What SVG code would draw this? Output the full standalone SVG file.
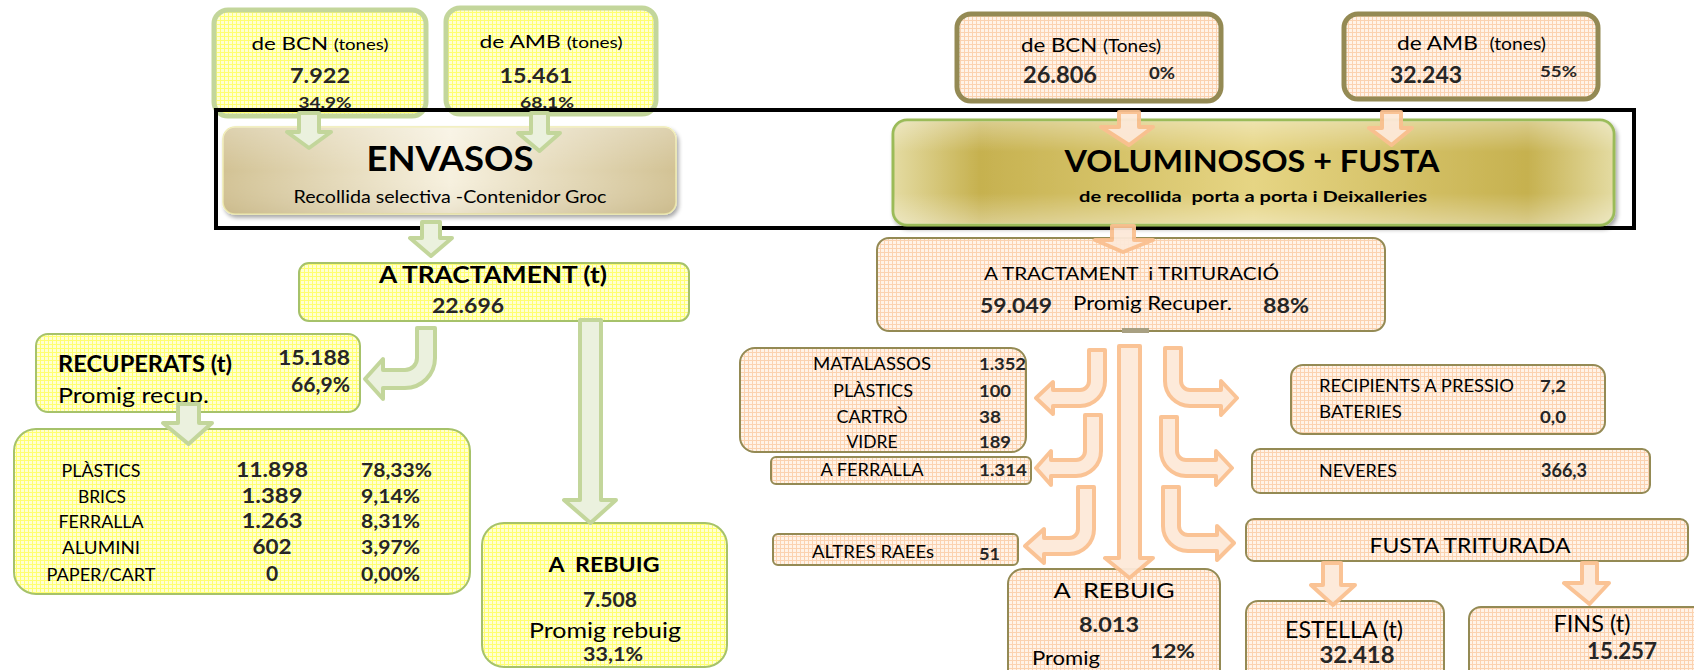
<svg xmlns="http://www.w3.org/2000/svg" width="1694" height="670" viewBox="0 0 1694 670">
<defs>
  <pattern id="pY" width="4" height="4" patternUnits="userSpaceOnUse">
    <rect width="4" height="4" fill="#ffffd2"/>
    <path d="M0 0.5H4M0.5 0V4" stroke="#ffff70" stroke-width="1"/>
  </pattern>
  <pattern id="pP" width="4" height="4" patternUnits="userSpaceOnUse">
    <rect width="4" height="4" fill="#fff3e8"/>
    <path d="M0 0.5H4M0.5 0V4" stroke="#fbd2b0" stroke-width="1"/>
  </pattern>
  <linearGradient id="gEnv" x1="0" y1="0" x2="1" y2="0">
    <stop offset="0" stop-color="#d2c294"/>
    <stop offset="0.5" stop-color="#f7f1df"/>
    <stop offset="1" stop-color="#d2c294"/>
  </linearGradient>
  <linearGradient id="gEnvV" x1="0" y1="0" x2="0" y2="1">
    <stop offset="0" stop-color="#ffffff" stop-opacity="0.25"/>
    <stop offset="0.5" stop-color="#ffffff" stop-opacity="0"/>
    <stop offset="1" stop-color="#a08c5a" stop-opacity="0.15"/>
  </linearGradient>
  <linearGradient id="gVol" x1="0" y1="0" x2="1" y2="0">
    <stop offset="0" stop-color="#e4dba2"/>
    <stop offset="0.12" stop-color="#c6b14f"/>
    <stop offset="0.5" stop-color="#e6d584"/>
    <stop offset="0.88" stop-color="#c6b14f"/>
    <stop offset="1" stop-color="#e4dba2"/>
  </linearGradient>
  <linearGradient id="gVolV" x1="0" y1="0" x2="0" y2="1">
    <stop offset="0" stop-color="#ffffff" stop-opacity="0.35"/>
    <stop offset="0.3" stop-color="#ffffff" stop-opacity="0"/>
    <stop offset="0.7" stop-color="#ffffff" stop-opacity="0"/>
    <stop offset="1" stop-color="#ffffff" stop-opacity="0.35"/>
  </linearGradient>
  <filter id="sh" x="-5%" y="-10%" width="110%" height="130%">
    <feGaussianBlur in="SourceAlpha" stdDeviation="2"/>
    <feOffset dx="2" dy="3" result="b"/>
    <feComponentTransfer><feFuncA type="linear" slope="0.35"/></feComponentTransfer>
    <feMerge><feMergeNode/><feMergeNode in="SourceGraphic"/></feMerge>
  </filter>
</defs>
<style>
  text { font-family: Lato, "Open Sans", "Liberation Sans", sans-serif; fill: #000; white-space: pre; }
  .b { font-weight: bold; }
  .n { font-weight: bold; fill: #262626; }
  .m { text-anchor: middle; }
  .e { text-anchor: end; }
  .gTop { fill: url(#pY); stroke: #c3d69b; stroke-width: 5; }
  .gBox { fill: url(#pY); stroke: #a6c26a; stroke-width: 2; }
  .pTop { fill: url(#pP); stroke: #948a54; stroke-width: 5; }
  .pBox { fill: url(#pP); stroke: #948a54; stroke-width: 2; }
  .ga { fill: #ebf1de; stroke: #c3d69b; stroke-width: 4; stroke-linejoin: round; }
  .pa { fill: #fde9d9; stroke: #fac090; stroke-width: 4; stroke-linejoin: round; opacity: 0.95; }
</style>

<!-- LEFT: ENVASOS -->
<g id="env-bcn">
  <rect class="gTop" x="214" y="10" width="212" height="106" rx="14"/>
  <text class="m" x="320" y="50" textLength="137" lengthAdjust="spacingAndGlyphs"><tspan font-size="18">de BCN </tspan><tspan font-size="15">(tones)</tspan></text>
  <text class="n m" x="320" y="83" font-size="20" textLength="60" lengthAdjust="spacingAndGlyphs">7.922</text>
  <text class="n m" x="325" y="108" font-size="16" textLength="53" lengthAdjust="spacingAndGlyphs">34,9%</text>
</g>
<g id="env-amb">
  <rect class="gTop" x="446" y="8" width="210" height="106" rx="14"/>
  <text class="m" x="551" y="48" textLength="143" lengthAdjust="spacingAndGlyphs"><tspan font-size="18">de AMB </tspan><tspan font-size="15">(tones)</tspan></text>
  <text class="n m" x="536" y="83" font-size="20" textLength="73" lengthAdjust="spacingAndGlyphs">15.461</text>
  <text class="n m" x="547" y="108" font-size="16" textLength="54" lengthAdjust="spacingAndGlyphs">68,1%</text>
</g>

<!-- RIGHT top boxes -->
<g id="vol-bcn">
  <rect class="pTop" x="957" y="14" width="264" height="87" rx="14"/>
  <text class="m" x="1091" y="52" textLength="140" lengthAdjust="spacingAndGlyphs"><tspan font-size="20">de BCN </tspan><tspan font-size="17">(Tones)</tspan></text>
  <text class="n" x="1023" y="83" font-size="22" textLength="74" lengthAdjust="spacingAndGlyphs">26.806</text>
  <text class="n" x="1149" y="79" font-size="17" textLength="26" lengthAdjust="spacingAndGlyphs">0%</text>
</g>
<g id="vol-amb">
  <rect class="pTop" x="1344" y="14" width="254" height="85" rx="14"/>
  <text x="1397" y="50" textLength="149" lengthAdjust="spacingAndGlyphs"><tspan font-size="20">de AMB  </tspan><tspan font-size="17">(tones)</tspan></text>
  <text class="n" x="1390" y="83" font-size="22" textLength="72" lengthAdjust="spacingAndGlyphs">32.243</text>
  <text class="n" x="1540" y="77" font-size="16" textLength="37" lengthAdjust="spacingAndGlyphs">55%</text>
</g>

<g id="frame">
  <rect x="216" y="110" width="1418" height="118" fill="none" stroke="#000" stroke-width="4"/>
</g>

<g id="envasos">
  <rect x="223" y="127" width="453" height="87" rx="12" fill="url(#gEnv)" stroke="#f0ecb0" stroke-width="1.5" filter="url(#sh)"/>
  <rect x="223" y="127" width="453" height="87" rx="12" fill="url(#gEnvV)"/>
  <text class="b m" x="450" y="171" font-size="34" textLength="167" lengthAdjust="spacingAndGlyphs">ENVASOS</text>
  <text class="m" x="450" y="203" font-size="17" textLength="313" lengthAdjust="spacingAndGlyphs">Recollida selectiva -Contenidor Groc</text>
</g>

<g id="voluminosos">
  <rect x="893" y="120" width="721" height="105" rx="14" fill="url(#gVol)" stroke="#9bbb59" stroke-width="3" filter="url(#sh)"/>
  <rect x="894" y="121" width="719" height="103" rx="13" fill="url(#gVolV)"/>
  <text class="b m" x="1252" y="172" font-size="31" textLength="375" lengthAdjust="spacingAndGlyphs">VOLUMINOSOS + FUSTA</text>
  <text class="b m" x="1253" y="202" font-size="16" textLength="348" lengthAdjust="spacingAndGlyphs">de recollida  porta a porta i Deixalleries</text>
</g>

<g id="env-tractament">
  <rect class="gBox" x="299" y="263" width="390" height="58" rx="10"/>
  <text class="b m" x="493" y="283" font-size="23" textLength="228" lengthAdjust="spacingAndGlyphs">A TRACTAMENT (t)</text>
  <text class="n m" x="468" y="313" font-size="20" textLength="72" lengthAdjust="spacingAndGlyphs">22.696</text>
</g>

<g id="env-recuperats">
  <rect class="gBox" x="36" y="334" width="324" height="78" rx="12"/>
  <text class="b" x="58" y="372" font-size="22" textLength="174" lengthAdjust="spacingAndGlyphs">RECUPERATS (t)</text>
  <text x="58" y="403" font-size="22" textLength="151" lengthAdjust="spacingAndGlyphs">Promig recup.</text>
  <text class="n e" x="350" y="365" font-size="20" textLength="72" lengthAdjust="spacingAndGlyphs">15.188</text>
  <text class="n e" x="350" y="392" font-size="20" textLength="59" lengthAdjust="spacingAndGlyphs">66,9%</text>
</g>

<g id="env-materials">
  <rect class="gBox" x="14" y="429" width="456" height="165" rx="22"/>
  <g font-size="17">
    <text class="m" x="101" y="477" textLength="79" lengthAdjust="spacingAndGlyphs">PLÀSTICS</text>
    <text class="m" x="102" y="503" textLength="48" lengthAdjust="spacingAndGlyphs">BRICS</text>
    <text class="m" x="101" y="528" textLength="85" lengthAdjust="spacingAndGlyphs">FERRALLA</text>
    <text class="m" x="101" y="554" textLength="78" lengthAdjust="spacingAndGlyphs">ALUMINI</text>
    <text class="m" x="101" y="581" textLength="109" lengthAdjust="spacingAndGlyphs">PAPER/CART</text>
  </g>
  <g font-size="21">
    <text class="n m" x="272" y="477" textLength="72" lengthAdjust="spacingAndGlyphs">11.898</text>
    <text class="n m" x="272" y="503" textLength="61" lengthAdjust="spacingAndGlyphs">1.389</text>
    <text class="n m" x="272" y="528" textLength="61" lengthAdjust="spacingAndGlyphs">1.263</text>
    <text class="n m" x="272" y="554" textLength="39" lengthAdjust="spacingAndGlyphs">602</text>
    <text class="n m" x="272" y="581">0</text>
  </g>
  <g font-size="19">
    <text class="n" x="361" y="477" textLength="71" lengthAdjust="spacingAndGlyphs">78,33%</text>
    <text class="n" x="361" y="503" textLength="59" lengthAdjust="spacingAndGlyphs">9,14%</text>
    <text class="n" x="361" y="528" textLength="59" lengthAdjust="spacingAndGlyphs">8,31%</text>
    <text class="n" x="361" y="554" textLength="59" lengthAdjust="spacingAndGlyphs">3,97%</text>
    <text class="n" x="361" y="581" textLength="59" lengthAdjust="spacingAndGlyphs">0,00%</text>
  </g>
</g>

<g id="env-rebuig">
  <rect class="gBox" x="482" y="523" width="245" height="144" rx="22"/>
  <text class="b m" x="604" y="572" font-size="21" textLength="111" lengthAdjust="spacingAndGlyphs">A  REBUIG</text>
  <text class="n m" x="610" y="607" font-size="20" textLength="54" lengthAdjust="spacingAndGlyphs">7.508</text>
  <text class="m" x="605" y="638" font-size="21" textLength="152" lengthAdjust="spacingAndGlyphs">Promig rebuig</text>
  <text class="n m" x="613" y="661" font-size="18" textLength="60" lengthAdjust="spacingAndGlyphs">33,1%</text>
</g>

<!-- RIGHT lower nodes -->
<g id="vol-tractament">
  <rect class="pBox" x="877" y="238" width="508" height="93" rx="12"/>
  <text x="984" y="280" font-size="18" textLength="295" lengthAdjust="spacingAndGlyphs">A TRACTAMENT  i TRITURACIÓ</text>
  <text class="n" x="980" y="313" font-size="21" textLength="72" lengthAdjust="spacingAndGlyphs">59.049</text>
  <text x="1073" y="310" font-size="20" textLength="159" lengthAdjust="spacingAndGlyphs">Promig Recuper.</text>
  <text class="n" x="1263" y="313" font-size="20" textLength="46" lengthAdjust="spacingAndGlyphs">88%</text>
  <rect x="1122" y="328" width="27" height="5" fill="#a8a082"/>
</g>

<g id="vol-materials">
  <rect class="pBox" x="740" y="348" width="286" height="104" rx="15"/>
  <g font-size="17">
    <text class="m" x="872" y="370" textLength="118" lengthAdjust="spacingAndGlyphs">MATALASSOS</text>
    <text class="m" x="873" y="397" textLength="80" lengthAdjust="spacingAndGlyphs">PLÀSTICS</text>
    <text class="m" x="872" y="423" textLength="71" lengthAdjust="spacingAndGlyphs">CARTRÒ</text>
    <text class="m" x="872" y="448" textLength="51" lengthAdjust="spacingAndGlyphs">VIDRE</text>
    <text class="n" x="979" y="370" textLength="47" lengthAdjust="spacingAndGlyphs">1.352</text>
    <text class="n" x="979" y="397" textLength="32" lengthAdjust="spacingAndGlyphs">100</text>
    <text class="n" x="979" y="423" textLength="22" lengthAdjust="spacingAndGlyphs">38</text>
    <text class="n" x="979" y="448" textLength="32" lengthAdjust="spacingAndGlyphs">189</text>
  </g>
</g>

<g id="vol-ferralla">
  <rect class="pBox" x="771" y="457" width="260" height="27" rx="5"/>
  <text class="m" x="872" y="476" font-size="17" textLength="103" lengthAdjust="spacingAndGlyphs">A FERRALLA</text>
  <text class="n" x="979" y="476" font-size="17" textLength="48" lengthAdjust="spacingAndGlyphs">1.314</text>
</g>

<g id="vol-raees">
  <rect class="pBox" x="773" y="534" width="245" height="31" rx="5"/>
  <text class="m" x="873" y="558" font-size="17" textLength="122" lengthAdjust="spacingAndGlyphs">ALTRES RAEEs</text>
  <text class="n" x="979" y="560" font-size="17" textLength="21" lengthAdjust="spacingAndGlyphs">51</text>
</g>

<g id="vol-rebuig">
  <rect class="pBox" x="1008" y="569" width="212" height="120" rx="15"/>
  <text class="m" x="1114" y="598" font-size="22" textLength="121" lengthAdjust="spacingAndGlyphs">A  REBUIG</text>
  <text class="n m" x="1109" y="632" font-size="21" textLength="60" lengthAdjust="spacingAndGlyphs">8.013</text>
  <text x="1032" y="665" font-size="20" textLength="68" lengthAdjust="spacingAndGlyphs">Promig</text>
  <text class="n" x="1150" y="658" font-size="19" textLength="45" lengthAdjust="spacingAndGlyphs">12%</text>
</g>

<g id="vol-recipients">
  <rect class="pBox" x="1291" y="365" width="314" height="69" rx="12"/>
  <text x="1319" y="392" font-size="17" textLength="195" lengthAdjust="spacingAndGlyphs">RECIPIENTS A PRESSIO</text>
  <text class="n" x="1540" y="392" font-size="17" textLength="26" lengthAdjust="spacingAndGlyphs">7,2</text>
  <text x="1319" y="418" font-size="17" textLength="83" lengthAdjust="spacingAndGlyphs">BATERIES</text>
  <text class="n" x="1540" y="423" font-size="17" textLength="26" lengthAdjust="spacingAndGlyphs">0,0</text>
</g>

<g id="vol-neveres">
  <rect class="pBox" x="1252" y="449" width="398" height="44" rx="8"/>
  <text x="1319" y="477" font-size="17" textLength="78" lengthAdjust="spacingAndGlyphs">NEVERES</text>
  <text class="n" x="1541" y="477" font-size="18" textLength="46" lengthAdjust="spacingAndGlyphs">366,3</text>
</g>

<g id="vol-fusta">
  <rect class="pBox" x="1246" y="519" width="442" height="42" rx="8"/>
  <text class="m" x="1470" y="553" font-size="22" textLength="201" lengthAdjust="spacingAndGlyphs">FUSTA TRITURADA</text>
</g>

<g id="vol-estella">
  <rect class="pBox" x="1246" y="601" width="198" height="90" rx="12"/>
  <text class="m" x="1344" y="638" font-size="23" textLength="118" lengthAdjust="spacingAndGlyphs">ESTELLA (t)</text>
  <text class="n m" x="1357" y="663" font-size="22" textLength="75" lengthAdjust="spacingAndGlyphs">32.418</text>
</g>

<g id="vol-fins">
  <rect class="pBox" x="1469" y="607" width="240" height="90" rx="12"/>
  <text class="m" x="1592" y="632" font-size="24" textLength="77" lengthAdjust="spacingAndGlyphs">FINS (t)</text>
  <text class="n m" x="1622" y="659" font-size="22" textLength="70" lengthAdjust="spacingAndGlyphs">15.257</text>
</g>

<g id="connectors">
  <!-- green -->
  <path class="ga" d="M299,113 H319 V132 H331 L309,148 L287,132 H299 Z"/>
  <path class="ga" d="M531,113 H548 V133 H560 L539.5,151 L518,133 H531 Z"/>
  <path class="ga" d="M422,222 H440 V238 H452 L431,256 L410,238 H422 Z"/>
  <path class="ga" d="M580,320 H601 V500 H616 L590.5,523 L564,500 H580 Z"/>
  <path class="ga" d="M417,328 H435 V358 A30,30 0 0 1 405,388 H383 V399 L365,379 L383,359 V370 H405 A12,12 0 0 0 417,358 Z"/>
  <path class="ga" d="M178,404 H199 V423 H212 L188.5,444 L163,423 H178 Z"/>
  <!-- peach -->
  <path class="pa" d="M1119,112 H1139 V127 H1153 L1129,145 L1101,127 H1119 Z"/>
  <path class="pa" d="M1382,112 H1401 V128 H1412 L1391.5,145 L1369,128 H1382 Z"/>
  <path class="pa" d="M1112,226 H1134 V240 H1153 L1123,252 L1095,240 H1112 Z"/>
  <path class="pa" d="M1119,346 H1140 V558 H1153 L1129.5,578 L1105,558 H1119 Z"/>
  <path class="pa" d="M1089,350 H1105 V381 A25,25 0 0 1 1080,406 H1053 V414 L1036,398 L1053,382 V390 H1080 A9,9 0 0 0 1089,381 Z"/>
  <path class="pa" d="M1085,415 H1101 V451 A25,25 0 0 1 1076,476 H1051 V485 L1036,468 L1051,451 V460 H1076 A9,9 0 0 0 1085,451 Z"/>
  <path class="pa" d="M1078,487 H1094 V529 A25,25 0 0 1 1069,554 H1044 V563 L1025,546 L1044,529 V538 H1069 A9,9 0 0 0 1078,529 Z"/>
  <path class="pa" d="M1165,348 H1181 V381 A9,9 0 0 0 1190,390 H1221 V381 L1237,398 L1221,415 V406 H1190 A25,25 0 0 1 1165,381 Z"/>
  <path class="pa" d="M1161,417 H1177 V451 A9,9 0 0 0 1186,460 H1216 V451 L1232,468 L1216,485 V476 H1186 A25,25 0 0 1 1161,451 Z"/>
  <path class="pa" d="M1163,487 H1179 V526 A9,9 0 0 0 1188,535 H1217 V526 L1234,543 L1217,560 V551 H1188 A25,25 0 0 1 1163,526 Z"/>
  <path class="pa" d="M1323,563 H1341 V585 H1355 L1333,605 L1311,585 H1323 Z"/>
  <path class="pa" d="M1582,563 H1597 V583 H1609 L1589.5,604 L1564,583 H1582 Z"/>
</g>
</svg>
